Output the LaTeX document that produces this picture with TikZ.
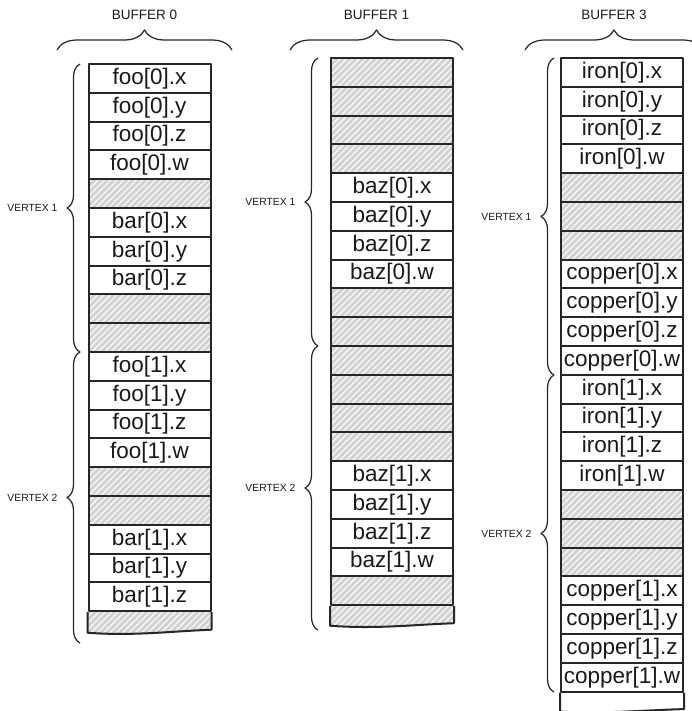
\documentclass[tikz,border=0pt]{standalone}
\usepackage{fontspec}
\setmainfont{Liberation Sans}
\usepackage{tikz}
\usetikzlibrary{decorations.pathreplacing,patterns.meta}

\begin{document}
\begin{tikzpicture}[line join=round]
\tikzset{
  cell/.style={draw=black!85,line width=0.4mm,minimum width=24.4mm,minimum height=5.76mm,inner sep=0pt,text=black!90,font=\fontsize{12.8}{14}\selectfont},
  pad/.style={cell,preaction={fill=black!18},pattern={Lines[angle=45,distance=0.9mm,line width=0.3mm]},pattern color=black!3},
  brc/.style={decorate,decoration={brace,amplitude=#1},line width=0.7pt,draw=black!85},
  blab/.style={inner sep=0pt,text=black!90,font=\fontsize{7.7}{9}\selectfont},
  vlab/.style={inner sep=0pt,text=black!90,font=\fontsize{5.9}{7}\selectfont}
}
\useasboundingbox (0,0) rectangle (138.4mm,-142.2mm);

\node[cell] (foo0x) at (29.9mm,-15.68mm) {foo[0].x};
\node[cell] (foo0y) at (29.9mm,-21.44mm) {foo[0].y};
\node[cell] (foo0z) at (29.9mm,-27.20mm) {foo[0].z};
\node[cell] (foo0w) at (29.9mm,-32.96mm) {foo[0].w};
\node[pad] (pad0r4) at (29.9mm,-38.72mm) {};
\node[cell] (bar0x) at (29.9mm,-44.48mm) {bar[0].x};
\node[cell] (bar0y) at (29.9mm,-50.24mm) {bar[0].y};
\node[cell] (bar0z) at (29.9mm,-56.00mm) {bar[0].z};
\node[pad] (pad0r8) at (29.9mm,-61.76mm) {};
\node[pad] (pad0r9) at (29.9mm,-67.52mm) {};
\node[cell] (foo1x) at (29.9mm,-73.28mm) {foo[1].x};
\node[cell] (foo1y) at (29.9mm,-79.04mm) {foo[1].y};
\node[cell] (foo1z) at (29.9mm,-84.80mm) {foo[1].z};
\node[cell] (foo1w) at (29.9mm,-90.56mm) {foo[1].w};
\node[pad] (pad0r14) at (29.9mm,-96.32mm) {};
\node[pad] (pad0r15) at (29.9mm,-102.08mm) {};
\node[cell] (bar1x) at (29.9mm,-107.84mm) {bar[1].x};
\node[cell] (bar1y) at (29.9mm,-113.60mm) {bar[1].y};
\node[cell] (bar1z) at (29.9mm,-119.36mm) {bar[1].z};
\draw[pad] (bar1z.south west) -- ++(0,-4.1mm) .. controls +(9mm,-0.7mm) and +(-8mm,-0.3mm) .. ([yshift=-3.5mm]bar1z.south east) -- (bar1z.south east);

\node[pad] (pad1r0) at (78.4mm,-14.48mm) {};
\node[pad] (pad1r1) at (78.4mm,-20.24mm) {};
\node[pad] (pad1r2) at (78.4mm,-26.00mm) {};
\node[pad] (pad1r3) at (78.4mm,-31.76mm) {};
\node[cell] (baz0x) at (78.4mm,-37.52mm) {baz[0].x};
\node[cell] (baz0y) at (78.4mm,-43.28mm) {baz[0].y};
\node[cell] (baz0z) at (78.4mm,-49.04mm) {baz[0].z};
\node[cell] (baz0w) at (78.4mm,-54.80mm) {baz[0].w};
\node[pad] (pad1r8) at (78.4mm,-60.56mm) {};
\node[pad] (pad1r9) at (78.4mm,-66.32mm) {};
\node[pad] (pad1r10) at (78.4mm,-72.08mm) {};
\node[pad] (pad1r11) at (78.4mm,-77.84mm) {};
\node[pad] (pad1r12) at (78.4mm,-83.60mm) {};
\node[pad] (pad1r13) at (78.4mm,-89.36mm) {};
\node[cell] (baz1x) at (78.4mm,-95.12mm) {baz[1].x};
\node[cell] (baz1y) at (78.4mm,-100.88mm) {baz[1].y};
\node[cell] (baz1z) at (78.4mm,-106.64mm) {baz[1].z};
\node[cell] (baz1w) at (78.4mm,-112.40mm) {baz[1].w};
\node[pad] (pad1r18) at (78.4mm,-118.16mm) {};
\draw[pad] (pad1r18.south west) -- ++(0,-3.9mm) .. controls +(9mm,-0.7mm) and +(-8mm,-0.3mm) .. ([yshift=-3.4mm]pad1r18.south east) -- (pad1r18.south east);

\node[cell] (iron0x) at (124.4mm,-14.48mm) {iron[0].x};
\node[cell] (iron0y) at (124.4mm,-20.24mm) {iron[0].y};
\node[cell] (iron0z) at (124.4mm,-26.00mm) {iron[0].z};
\node[cell] (iron0w) at (124.4mm,-31.76mm) {iron[0].w};
\node[pad] (pad3r4) at (124.4mm,-37.52mm) {};
\node[pad] (pad3r5) at (124.4mm,-43.28mm) {};
\node[pad] (pad3r6) at (124.4mm,-49.04mm) {};
\node[cell] (copper0x) at (124.4mm,-54.80mm) {copper[0].x};
\node[cell] (copper0y) at (124.4mm,-60.56mm) {copper[0].y};
\node[cell] (copper0z) at (124.4mm,-66.32mm) {copper[0].z};
\node[cell] (copper0w) at (124.4mm,-72.08mm) {copper[0].w};
\node[cell] (iron1x) at (124.4mm,-77.84mm) {iron[1].x};
\node[cell] (iron1y) at (124.4mm,-83.60mm) {iron[1].y};
\node[cell] (iron1z) at (124.4mm,-89.36mm) {iron[1].z};
\node[cell] (iron1w) at (124.4mm,-95.12mm) {iron[1].w};
\node[pad] (pad3r15) at (124.4mm,-100.88mm) {};
\node[pad] (pad3r16) at (124.4mm,-106.64mm) {};
\node[pad] (pad3r17) at (124.4mm,-112.40mm) {};
\node[cell] (copper1x) at (124.4mm,-118.16mm) {copper[1].x};
\node[cell] (copper1y) at (124.4mm,-123.92mm) {copper[1].y};
\node[cell] (copper1z) at (124.4mm,-129.68mm) {copper[1].z};
\node[cell] (copper1w) at (124.4mm,-135.44mm) {copper[1].w};
\draw[cell] (copper1w.south west) -- ++(0,-3.8mm) .. controls +(9mm,-0.5mm) and +(-8mm,-0.2mm) .. ([yshift=-3.3mm]copper1w.south east) -- (copper1w.south east);

\draw[brc=4mm] (11.4mm,-10mm) -- node[blab,above=6mm] (buf0) {BUFFER 0} (46.4mm,-10mm);
\draw[brc=4mm] (58mm,-10mm) -- node[blab,above=6mm] (buf1) {BUFFER 1} (92.6mm,-10mm);
\draw[brc=4mm] (105mm,-10mm) -- node[blab,above=6mm] (buf3) {BUFFER 3} (140.6mm,-10mm);

\draw[brc=2.6mm] (16mm,-70.4mm) -- node[vlab,left=4.4mm] (vtx0a) {VERTEX 1} (16mm,-12.8mm);
\draw[brc=2.6mm] (16mm,-128.6mm) -- node[vlab,left=4.4mm] (vtx0b) {VERTEX 2} (16mm,-70.4mm);
\draw[brc=2.6mm] (63.6mm,-69.2mm) -- node[vlab,left=4.4mm] (vtx1a) {VERTEX 1} (63.6mm,-11.6mm);
\draw[brc=2.6mm] (63.6mm,-126mm) -- node[vlab,left=4.4mm] (vtx1b) {VERTEX 2} (63.6mm,-69.2mm);
\draw[brc=2.6mm] (110.8mm,-75mm) -- node[vlab,left=4.4mm] (vtx3a) {VERTEX 1} (110.8mm,-11.6mm);
\draw[brc=2.6mm] (110.8mm,-138.4mm) -- node[vlab,left=4.4mm] (vtx3b) {VERTEX 2} (110.8mm,-75mm);
\end{tikzpicture}
\end{document}
